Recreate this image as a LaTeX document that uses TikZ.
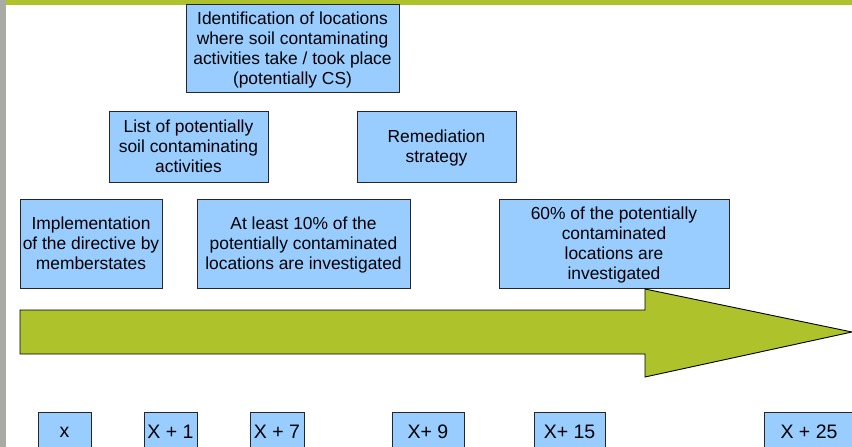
\documentclass[tikz,border=0pt]{standalone}
\usepackage{fontspec}
\setmainfont{Liberation Sans}
\definecolor{boxblue}{HTML}{99CCFF}
\definecolor{arrowgreen}{HTML}{ADC22B}
\definecolor{bargrey}{HTML}{A9AAA4}
\begin{document}
\begin{tikzpicture}[x=1pt,y=-1pt,
    box/.style={draw=black!85,line width=0.9pt,fill=boxblue,align=center,
      inner sep=0pt,text depth=0pt,font=\fontsize{17.4}{19.9}\selectfont},
    year/.style={box,minimum height=40pt,font=\fontsize{19.5}{22}\selectfont}]
  \clip (0,0) rectangle (852,447);
  \fill[white] (0,0) rectangle (852,447);
  \fill[bargrey] (0,0) rectangle (6,447);
  \fill[arrowgreen] (6,0) rectangle (852,5);
  \draw
    (292.5,48) node[box,minimum width=213pt,minimum height=88pt] (ident)
      {Identification of locations\\where soil contaminating\\activities take / took place\\(potentially CS)}
    (188.5,146.5) node[box,minimum width=159pt,minimum height=71pt] (list)
      {List of potentially\\soil contaminating\\activities}
    (436.5,146.5) node[box,minimum width=159pt,minimum height=71pt] (remed)
      {Remediation\\strategy}
    (91,243.5) node[box,minimum width=142pt,minimum height=89pt] (impl)
      {Implementation\\of the directive by\\memberstates}
    (303.5,243.5) node[box,minimum width=213pt,minimum height=89pt] (least)
      {At least 10\% of the\\potentially contaminated\\locations are investigated}
    (614,243.5) node[box,minimum width=230pt,minimum height=89pt] (sixty)
      {60\% of the potentially\\contaminated\\locations are\\investigated};
  % time arrow
  \draw[fill=arrowgreen,line width=0.9pt]
    (20,310) -- (645,310) -- (645,289) -- (852,332) -- (645,377)
    -- (645,354) -- (20,354) -- cycle;
  \draw
    (64.5,432) node[year,minimum width=53pt] (t0){x}
    (170.5,432) node[year,minimum width=53pt] (t1){X + 1}
    (277,432) node[year,minimum width=54pt] (t7){X + 7}
    (428,432) node[year,minimum width=72pt] (t9){X+ 9}
    (569.5,432) node[year,minimum width=71pt] (t15){X+ 15}
    (809,432) node[year,minimum width=90pt] (t25){X + 25};
\end{tikzpicture}
\end{document}
